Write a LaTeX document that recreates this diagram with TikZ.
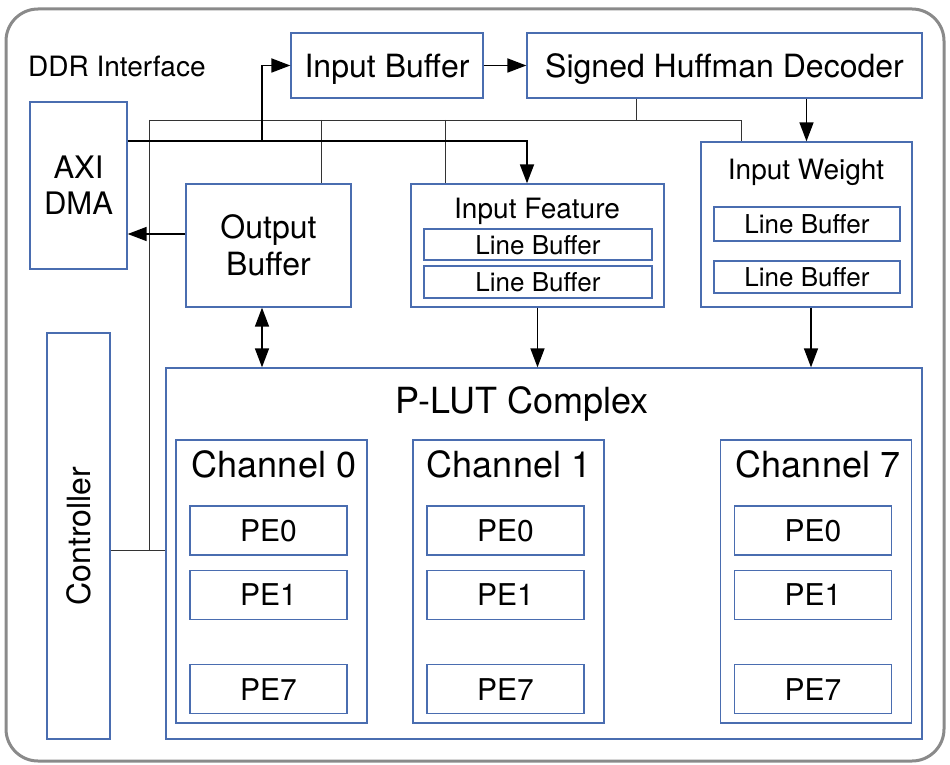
\documentclass[tikz,border=0pt]{standalone}
\usepackage{fontspec}
\setmainfont{TeX Gyre Heros}
\usepackage{tikz}
\usetikzlibrary{positioning, arrows.meta}

\definecolor{boxblue}{HTML}{4A6DB0}
\definecolor{framegray}{HTML}{8A8A8A}
\definecolor{wiregray}{HTML}{333333}

\newcommand{\setfs}[2]{\fontsize{#1}{#2}\selectfont}

\tikzset{
	blk/.style={draw=boxblue, line width=1.3pt, inner sep=0pt, align=center, text depth=0pt},
	lbl/.style={inner sep=0pt, text depth=0pt},
	wire/.style={draw=wiregray, line width=0.9pt},
	bus/.style={line width=1.8pt},
	flow/.style={line width=1.5pt},
	tipto/.style={-{Triangle[length=19pt,width=14pt]}},
	tipboth/.style={{Triangle[length=19pt,width=14pt]}-{Triangle[length=19pt,width=14pt]}},
	pe/.style={blk, minimum width=157pt, minimum height=49pt, font=\setfs{30}{36}},
	chan/.style={blk, minimum height=283pt, minimum width=191pt},
	lbuf/.style={blk, font=\setfs{26}{30}},
}

\begin{document}
\begin{tikzpicture}[x=1pt, y=-1pt]
			\useasboundingbox (0,0) rectangle (950,765);
			\draw[framegray, line width=3pt, rounded corners=32pt] (6,9) rectangle (944,761);
			
			\node[lbl, anchor=west, font=\setfs{28}{34}] (ddr) at (28,66) {DDR Interface};
			
			% top row
			\node[blk, minimum width=192pt, minimum height=65pt, font=\setfs{32}{38}] (ib) at (387,65.5) {Input Buffer};
			\node[blk, minimum width=395pt, minimum height=65pt, font=\setfs{32}{38}] (shd) at (724.5,65.5) {Signed Huffman Decoder};
			
			% middle row
			\node[blk, minimum width=97pt, minimum height=167pt, font=\setfs{31}{36}] (axi) at (78.5,185.5) {AXI\\DMA};
			\node[blk, minimum width=165pt, minimum height=123pt, font=\setfs{32}{37}] (ob) at (268.5,245.5) {Output\\Buffer};
			\node[blk, minimum width=253pt, minimum height=123pt] (inf) at (537.5,245.5) {};
			\node[lbl, font=\setfs{28}{34}] (inft) at (537,208) {Input Feature};
			\node[lbuf, minimum width=228pt, minimum height=31pt] (lb1) at (538,244.5) {Line Buffer};
			\node[lbuf, minimum width=228pt, minimum height=32pt] (lb2) at (538,282) {Line Buffer};
			\node[blk, minimum width=211pt, minimum height=165pt] (iw) at (806.5,224.5) {};
			\node[lbl, font=\setfs{28}{34}] (iwt) at (806,169) {Input Weight};
			\node[lbuf, minimum width=186pt, minimum height=34pt] (lb3) at (807,224) {Line Buffer};
			\node[lbuf, minimum width=186pt, minimum height=32pt] (lb4) at (807,277) {Line Buffer};
			
			% controller and P-LUT complex
			\node[blk, minimum width=63pt, minimum height=406pt] (ctrl) at (78.5,536) {};
			\node[lbl, rotate=90, font=\setfs{32}{38}] (ctrlt) at (79,536) {Controller};
			\node[blk, minimum width=756pt, minimum height=371pt] (plut) at (544,553.5) {};
			\node[lbl, font=\setfs{36}{42}] (plutt) at (522,400) {P-LUT Complex};
			
			\foreach \c/\x/\tx in {0/271.5/274, 1/508.5/509, 7/816/818} {
				\node[chan] (ch\c) at (\x,581.5) {};
				\node[lbl, font=\setfs{36}{42}] (ch\c t) at (\tx,464) {Channel \c};
				\node[pe] (pe0\c) at (\x-3,530.5) {PE0};
				\node[pe, below=14pt of pe0\c] (pe1\c) {PE1};
				\node[pe, below=44pt of pe1\c] (pe7\c) {PE7};
			}
			
			% wiring
			\coordinate (cl) at (149,120);
			\coordinate (cb) at (149,550);
			\coordinate (cr) at (741,120);
			\coordinate (tap) at (262,141);
			
			\draw[wire] (cl) -- (cr) -- (cr |- iw.north);
			\draw[wire] (cl) -- (cb);
			\draw[wire] (ctrl.east |- cb) -- (plut.west |- cb);
			\draw[wire] (shd.south -| 636,0) -- (cl -| 636,0);
			\draw[wire] (cl -| 321,0) -- (ob.north -| 321,0);
			\draw[wire] (cl -| 445,0) -- (inf.north -| 445,0);
			
			\draw[bus, tipto] (axi.east |- tap) -| ([xshift=-10.5pt]inf.north);
			\draw[bus, tipto] (tap) |- (ib.west);
			\draw[bus, tipto] (ib) -- (shd);
			\draw[flow, tipto] ([yshift=11.5pt]ob.west) -- (axi.east |- 0,234);
			\draw[flow, tipto] (iw.north |- shd.south) -- (iw.north);
			\draw[flow, tipboth] ([xshift=-6.5pt]ob.south) -- ([xshift=-6.5pt]ob.south |- plut.north);
			\draw[flow, tipto] (inf.south) -- (inf.south |- plut.north);
			\draw[flow, tipto] ([xshift=4.5pt]iw.south) -- ([xshift=4.5pt]iw.south |- plut.north);
\end{tikzpicture}
\end{document}
